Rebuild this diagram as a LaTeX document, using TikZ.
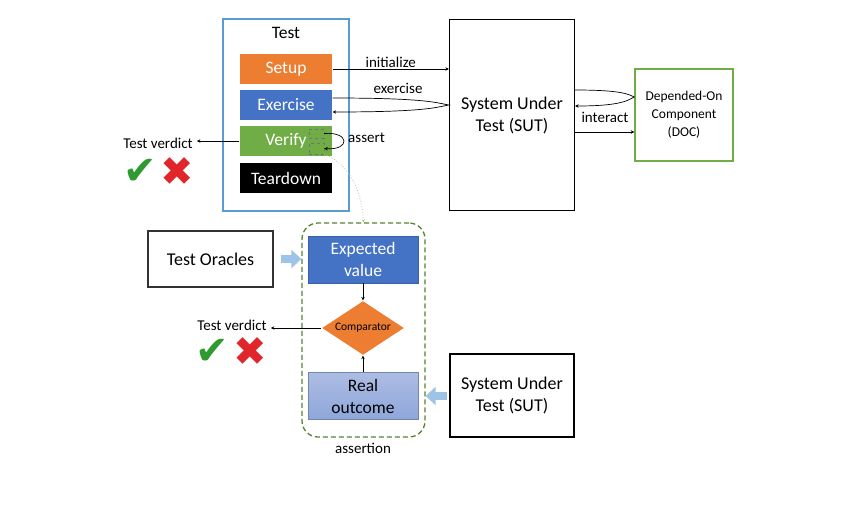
\documentclass[tikz,border=0pt]{standalone}
\usepackage{fontspec}
\setmainfont{Carlito}
\newfontfamily\symbolfont{DejaVu Sans}
\usepackage{xcolor}
\usetikzlibrary{shapes.geometric,arrows.meta,positioning,calc}
\definecolor{TestBlue}{HTML}{5B9BD5}
\definecolor{PhaseOrange}{HTML}{ED7D31}
\definecolor{PhaseBlue}{HTML}{4472C4}
\definecolor{PhaseGreen}{HTML}{70AD47}
\definecolor{AssertGreen}{HTML}{548235}
\definecolor{LinkGreen}{HTML}{A9C78E}
\definecolor{RealTop}{HTML}{ADBDE3}
\definecolor{RealBottom}{HTML}{8EA6DA}
\definecolor{FeedBlue}{HTML}{9DC3E6}
\definecolor{OkGreen}{HTML}{2F9A2F}
\definecolor{FailRed}{HTML}{E0262B}
\tikzset{
    % Base node style
    basenode/.style={
        draw=black,
        line width=1.2pt,
        inner sep=0pt,
        align=center,
        font=\fontsize{18}{22}\selectfont
    },
    % Phase boxes inside the test
    phasenode/.style={
        basenode,
        draw=none,
        text=white,
        minimum width=92pt,
        minimum height=30pt,
        font=\fontsize{17.5}{20}\selectfont
    },
    % Boxes inside the assertion
    assertnode/.style={
        basenode,
        line width=0.6pt,
        minimum width=110pt,
        minimum height=47pt,
        font=\fontsize{17.5}{22}\selectfont
    },
    % Plain labels
    labelnode/.style={
        inner sep=1pt,
        font=\fontsize{15}{17}\selectfont
    },
    % Check and cross marks
    marknode/.style={
        inner sep=0pt,
        font=\symbolfont\fontsize{40}{40}\selectfont
    },
    % Arrow styles
    myarrow/.style={
        -{Stealth[length=3.5pt,width=3.5pt]},
        line width=0.7pt,
        draw=black
    },
    % Wide feed arrow
    feedarrow/.style={
        -{Triangle[length=10pt,width=18pt]},
        line width=8pt,
        draw=FeedBlue
    }
}
\begin{document}
\begin{tikzpicture}[x=1pt, y=-1pt]
        \useasboundingbox (0,0) rectangle (864,506);

        % Test with its phases
        \node[basenode, draw=TestBlue, line width=1.5pt, minimum width=126pt, minimum height=192pt] (test) at (286,115) {};
        \node[font=\fontsize{17.5}{20}\selectfont] (testlabel) at (286,33) {Test};
        \node[phasenode, fill=PhaseOrange] (setup) at (286,69) {Setup};
        \node[phasenode, fill=PhaseBlue] (exercise) at (286,105) {Exercise};
        \node[phasenode, fill=PhaseGreen] (verify) at (286,141) {Verify};
        \node[phasenode, fill=black] (teardown) at (286,178) {Teardown};
        \node[draw=black!55, dashed, line width=0.4pt, minimum width=15pt, minimum height=9pt, inner sep=0pt] (vbox1) at (316.5,133.5) {};
        \node[draw=black!55, dashed, line width=0.4pt, minimum width=15pt, minimum height=11pt, inner sep=0pt] (vbox2) at (316.5,148.5) {};

        % System under test and its component
        \node[basenode, minimum width=125pt, minimum height=191pt] (sut) at (512,115) {System Under\\Test (SUT)};
        \node[basenode, draw=PhaseGreen, line width=1.5pt, minimum width=98pt, minimum height=92pt, font=\fontsize{13.5}{18}\selectfont] (doc) at (684,115) {Depended-On\\Component\\(DOC)};

        % Calls between test and SUT
        \draw[myarrow] (setup.east) -- (sut.west |- setup.east) node[labelnode, midway, above] (initlabel) {initialize};
        \draw[myarrow] ([yshift=7pt]exercise.east) .. controls +(95,0) and +(-12,-2) .. (sut.west |- exercise.east)
            .. controls +(-12,2) and +(95,0) .. ([yshift=-7pt]exercise.east);
        \node[labelnode] (exerciselabel) at (398,88) {exercise};
        \draw[myarrow] (vbox1.east) .. controls +(26,-2) and +(26,2) .. (vbox2.east);
        \node[labelnode, anchor=west] (assertlabel) at (347,138) {assert};

        % SUT and DOC
        \draw[myarrow] ([yshift=25pt]sut.east) .. controls +(50,0) and +(-5,-2) .. ([yshift=18pt]doc.west)
            .. controls +(-5,2) and +(50,0) .. ([yshift=9pt]sut.east);
        \draw[myarrow] ([yshift=-17pt]sut.east) -- ([yshift=-17pt]doc.west);
        \node[labelnode] (interactlabel) at (605,117) {interact};

        % Verdict of the test
        \node[labelnode] (verdicttop) at (158,143) {Test verdict};
        \draw[myarrow] (verify.west) -- ([xshift=3pt]verdicttop.east |- verify.west);
        \node[marknode, text=OkGreen] (oktop) at (140,172) {✔};
        \node[marknode, text=FailRed] (failtop) at (177,172) {✖};

        % Assertion
        \node[draw=AssertGreen, dashed, dash pattern=on 5pt off 3pt, line width=1.3pt, rounded corners=16pt, minimum width=123pt, minimum height=214pt] (assertion) at (363.5,330) {};
        \node[labelnode] (assertionlabel) at (363,448) {assertion};
        \draw[LinkGreen, dotted, line width=0.8pt, -{Stealth[length=3pt,width=3pt]}] (vbox2.south east) .. controls (352,165) and (362,195) .. (assertion.north);
        \node[assertnode, fill=PhaseBlue, draw=PhaseBlue!85!black, text=white] (expected) at (363,259.5) {Expected\\value};
        \node[basenode, diamond, aspect=2, fill=PhaseOrange, draw=none, minimum width=82pt, minimum height=54pt, font=\fontsize{11.5}{13}\selectfont] (comparator) at (363,328) {Comparator};
        \node[assertnode, top color=RealTop, bottom color=RealBottom, draw=RealBottom!80!black] (real) at (363,396) {Real\\outcome};
        \draw[myarrow] (expected) -- (comparator);
        \draw[myarrow] (real) -- (comparator);

        % Oracles and SUT feeding the assertion
        \node[basenode, draw=black!80, line width=1.3pt, minimum width=125pt, minimum height=56pt] (oracles) at (210.5,259) {Test Oracles};
        \node[basenode, minimum width=124pt, minimum height=83pt] (sutbottom) at (512,395.5) {System Under\\Test (SUT)};
        \draw[feedarrow, shorten <=7pt] (oracles.east) -- (assertion.west |- oracles.east);
        \draw[feedarrow, shorten <=2pt] (sutbottom.west |- real.east) -- (assertion.east |- real.east);

        % Verdict of the assertion
        \node[labelnode] (verdictbottom) at (232,325) {Test verdict};
        \draw[myarrow] (comparator.west) -- ([xshift=3pt]verdictbottom.east |- comparator.west);
        \node[marknode, text=OkGreen] (okbottom) at (212,352) {✔};
        \node[marknode, text=FailRed] (failbottom) at (250,352) {✖};
    \end{tikzpicture}
\end{document}
